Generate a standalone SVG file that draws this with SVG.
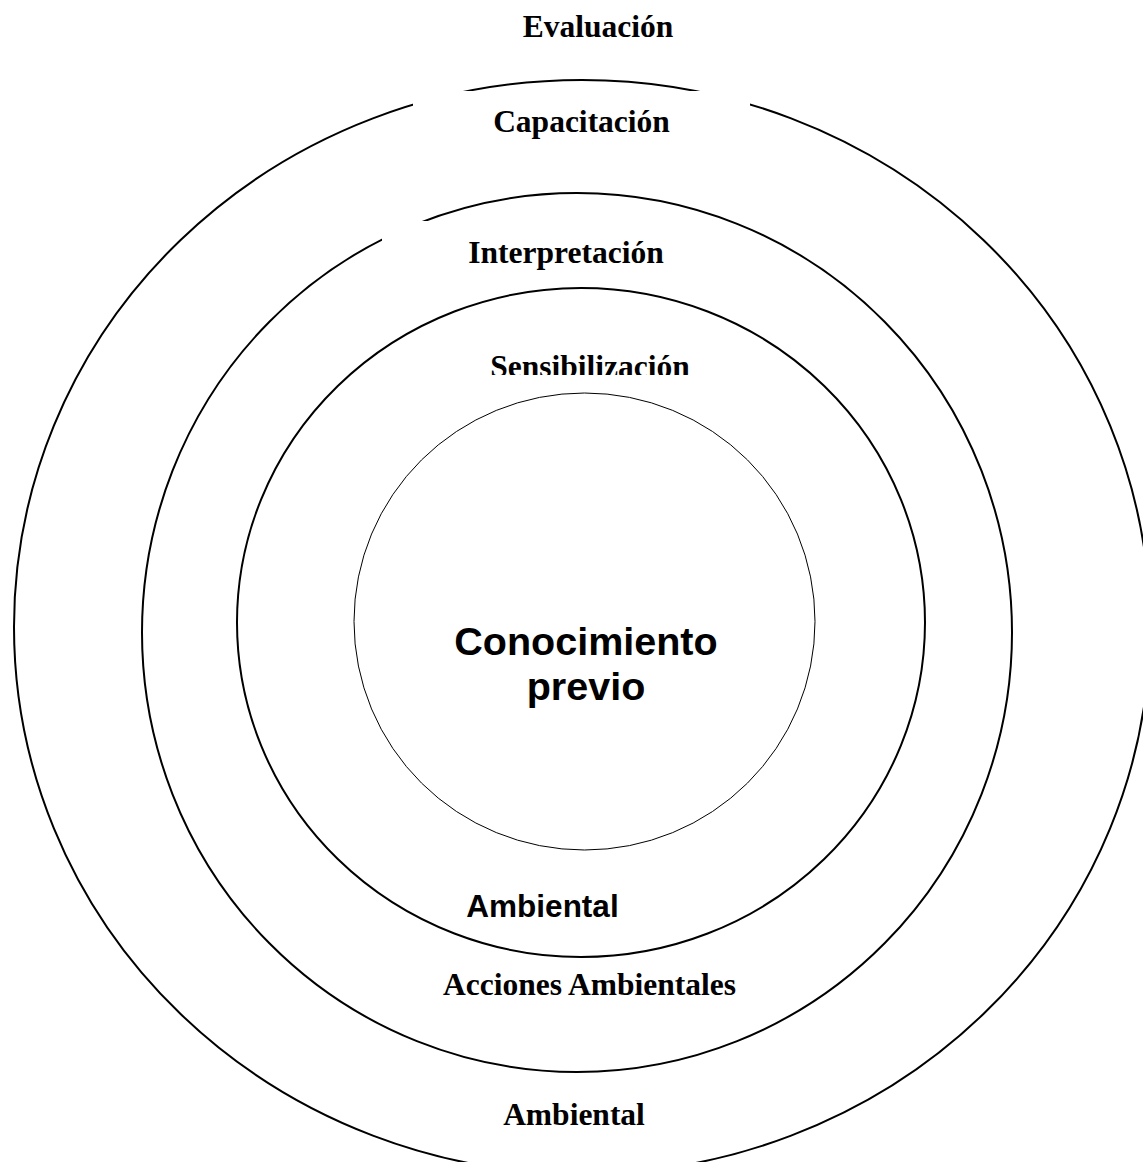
<svg xmlns="http://www.w3.org/2000/svg" width="1143" height="1162" viewBox="0 0 1143 1162">
<style>
.ring{fill:none;stroke:#000;stroke-width:2}
.core{fill:none;stroke:#000;stroke-width:1}
.mask{fill:#fff;stroke:none}
.serif{font-family:"Liberation Serif","Times New Roman",serif;font-weight:bold;font-size:31.5px;fill:#000;text-anchor:middle}
.sans{font-family:"Liberation Sans",Arial,sans-serif;font-weight:bold;fill:#000;text-anchor:middle}
</style>
<defs>
<clipPath id="clipSens"><rect x="400" y="330" width="380" height="45"/></clipPath>
</defs>
<rect width="1143" height="1162" fill="#fff"/>
<g id="ring-evaluacion">
<ellipse class="ring" cx="582" cy="627" rx="568" ry="547"/>
</g>
<g id="ring-capacitacion">
<ellipse class="ring" cx="577" cy="632.5" rx="435" ry="439.5"/>
</g>
<g id="ring-interpretacion">
<ellipse class="ring" cx="581" cy="622.5" rx="344" ry="334.5"/>
</g>
<g id="core">
<ellipse class="core" cx="584.5" cy="621.5" rx="230.5" ry="228.5"/>
</g>
<g id="label-masks">
<rect class="mask" x="413" y="91" width="337" height="55"/>
<rect class="mask" x="382" y="221" width="318" height="54"/>
<rect class="mask" x="383" y="1095" width="387" height="41"/>
</g>
<g id="labels">
<text class="serif" x="598" y="37">Evaluación</text>
<text class="serif" x="581.5" y="132">Capacitación</text>
<text class="serif" x="566" y="263">Interpretación</text>
<text class="serif" x="590" y="377" clip-path="url(#clipSens)">Sensibilización</text>
<text class="sans" x="542.5" y="917" font-size="31.5">Ambiental</text>
<text class="serif" x="589.5" y="995">Acciones Ambientales</text>
<text class="serif" x="574" y="1125">Ambiental</text>
<text class="sans" x="586" y="655" font-size="39.5">Conocimiento</text>
<text class="sans" x="586" y="700" font-size="39.5">previo</text>
</g>
</svg>
